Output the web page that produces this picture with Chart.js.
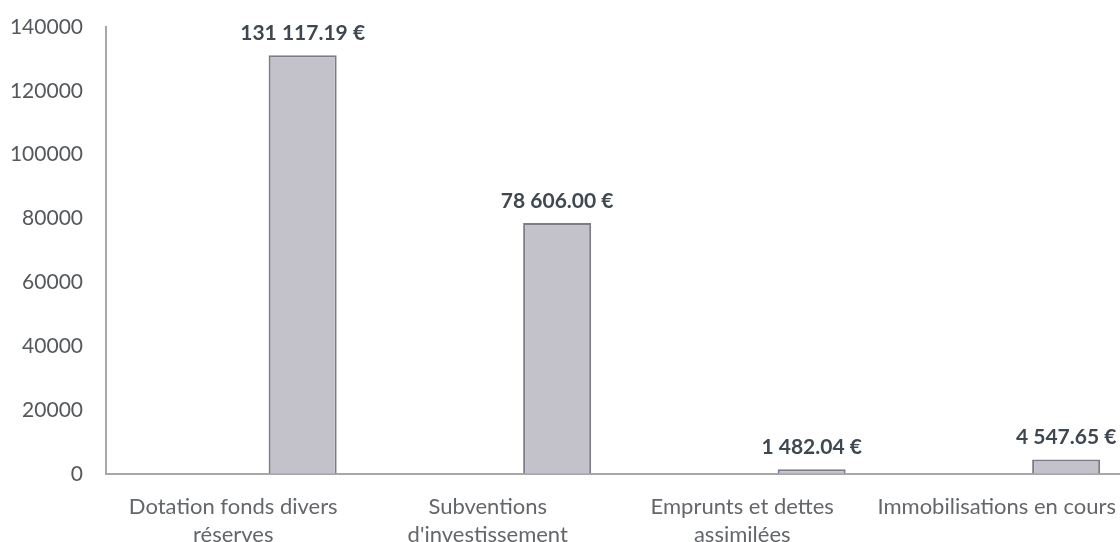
<!DOCTYPE html>
<html lang="fr">
<head>
<meta charset="UTF-8" />
<script src="https://cdn.jsdelivr.net/npm/chart.js@4/dist/chart.umd.min.js"></script>
<style>
  body { margin: 0; background: #fff; overflow: hidden; }
  #wrap { width: 1120px; height: 542px; overflow: hidden; }
</style>
</head>
<body>
<div id="wrap"><canvas id="c" width="1135" height="542"></canvas></div>
<script>
const categories = [
  ['Dotation fonds divers', 'réserves'],
  ['Subventions', "d'investissement"],
  ['Emprunts et dettes', 'assimilées'],
  ['Immobilisations en cours']
]
const amounts = [131117.19, 78606.00, 1482.04, 4547.65]
const emptySeries = [null, null, null, null]
const yTicks = { min: 0, max: 140000, step: 20000 }

const euro = (v) => {
	const [i, d] = v.toFixed(2).split('.')
	return i.replace(/\B(?=(\d{3})+(?!\d))/g, ' ') + '.' + d + ' €'
}

// draws the value above each bar of the second dataset
const valueLabels = {
	id: 'valueLabels',
	afterDatasetsDraw(chart) {
		const ctx = chart.ctx
		const meta = chart.getDatasetMeta(1)
		ctx.save()
		ctx.font = 'bold 21px Lato'
		ctx.fillStyle = '#3f4850'
		ctx.textAlign = 'center'
		ctx.textBaseline = 'middle'
		meta.data.forEach((bar, i) => {
			ctx.fillText(euro(amounts[i]), bar.x, bar.y - 22)
		})
		ctx.restore()
	},
}

new Chart(document.getElementById('c').getContext('2d'), {
	type: 'bar',
	data: {
		labels: categories,
		datasets: [
			{ data: emptySeries },
			{
				data: amounts,
				backgroundColor: '#c3c2ca',
				borderColor: '#7c7c88',
				borderWidth: 2,
			},
		],
	},
	options: {
		responsive: false,
		animation: false,
		categoryPercentage: 1.091,
		barPercentage: 0.49,
		layout: { padding: { top: 27, right: 0, left: 0, bottom: 0 } },
		plugins: { legend: { display: false }, tooltip: { enabled: false } },
		scales: {
			x: {
				grid: { display: false, drawTicks: false },
				border: { display: true, color: '#a8a8a8', width: 2 },
				ticks: {
					color: '#63666a',
					font: { family: 'Lato', size: 22, lineHeight: 1.27 },
					padding: 19,
					maxRotation: 0,
					autoSkip: false,
				},
				afterFit(scale) { scale.height = 68 },
			},
			y: {
				min: yTicks.min,
				max: yTicks.max,
				// invisible tick marks give the label gap without extra top padding
				grid: { display: true, drawOnChartArea: false, drawTicks: true, tickLength: 20, color: 'rgba(0,0,0,0)' },
				border: { display: true, color: '#a8a8a8', width: 2 },
				ticks: {
					stepSize: yTicks.step,
					color: '#55585c',
					font: { family: 'Lato', size: 21 },
					padding: 3,
					callback: (v) => String(v),
				},
				afterFit(scale) { scale.width = 106 },
			},
		},
	},
	plugins: [valueLabels],
})
</script>
</body>
</html>
